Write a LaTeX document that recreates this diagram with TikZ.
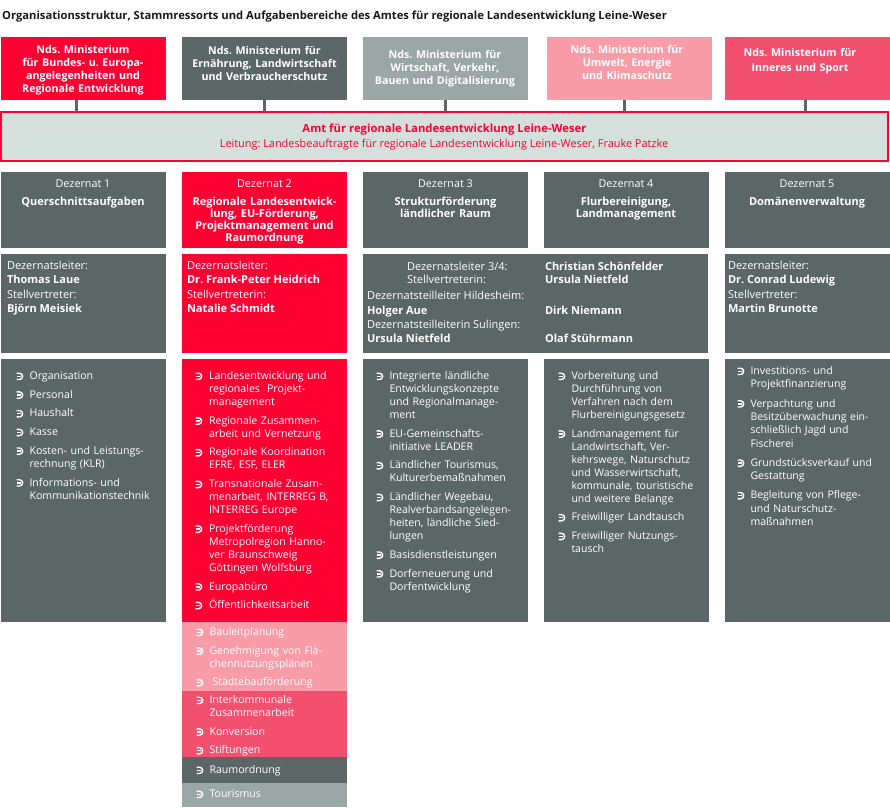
\documentclass[tikz,border=0pt]{standalone}
\usepackage{fontspec}
\setmainfont{Open Sans}
\frenchspacing
\definecolor{cred}{HTML}{FF0033}
\definecolor{dgrey}{HTML}{5B6766}
\definecolor{lgrey}{HTML}{9BA7A4}
\definecolor{lpink}{HTML}{F99CA8}
\definecolor{cpink}{HTML}{F3506F}
\definecolor{amtfill}{HTML}{D5DFDC}
\newcommand\bul{\tikz[x=1pt,y=1pt,baseline=0pt]{\draw[white,line width=1.4pt] (0,6.3)--(2.8,6.3) arc[start angle=90,end angle=-90,radius=3.15]--(0,0); \draw[white,line width=1.4pt](0,3.15)--(4.5,3.15);}}
\newcommand\bitem[2][13.5pt]{\hangindent=#1\hangafter=1\noindent\hbox to #1{\bul\hss}#2\par\vspace{5.7pt}}
\begin{document}
\frenchspacing
\begin{tikzpicture}[x=1pt,y=-1pt,
  box/.style={rectangle,draw=none,inner sep=0pt,outer sep=0pt,anchor=north west},
  wt/.style={text=white,inner sep=0pt,outer sep=0pt},
  mtitle/.style={wt,font=\bfseries\fontsize{10.7}{13}\selectfont,text width=170pt,align=center,anchor=base},
  dnum/.style={wt,font=\fontsize{10.8}{12}\selectfont,anchor=base},
  dtitle/.style={wt,font=\bfseries\fontsize{11}{12}\selectfont,text width=170pt,align=center,anchor=base},
  plab/.style={wt,font=\fontsize{11}{12}\selectfont,anchor=base west},
  pname/.style={wt,font=\bfseries\fontsize{11}{12}\selectfont,anchor=base west},
  tlist/.style={wt,font=\fontsize{10.6}{13}\selectfont,text width=200pt,align=left,anchor=base west},
  conn/.style={draw=dgrey,line width=3pt}
]
\useasboundingbox (0,0) rectangle (890,807);
% title
\node[anchor=base west,inner sep=0pt,text=black!90,font=\bfseries\fontsize{11.2}{13}\selectfont] (title) at (2,19) {Organisationsstruktur, Stammressorts und Aufgabenbereiche des Amtes für regionale Landesentwicklung Leine-Weser};
% ministries
\node[box,fill=cred,minimum width=165pt,minimum height=63pt] (m1) at (0.5,37) {};
\node[box,fill=dgrey,minimum width=165pt,minimum height=63pt] (m2) at (182,37) {};
\node[box,fill=lgrey,minimum width=165pt,minimum height=63pt] (m3) at (363,37) {};
\node[box,fill=lpink,minimum width=165pt,minimum height=63pt] (m4) at (547,37) {};
\node[box,fill=cpink,minimum width=164.5pt,minimum height=63pt] (m5) at (725,37) {};
\node[mtitle] (m1t) at (83,53.5) {Nds. Ministerium\\für Bundes- u. Europa-\\angelegenheiten und\\Regionale Entwicklung};
\node[mtitle] (m2t) at (264.5,54.5) {Nds. Ministerium für\\Ernährung, Landwirtschaft\\und Verbraucherschutz};
\node[mtitle] (m3t) at (445,58.5) {Nds. Ministerium für\\Wirtschaft, Verkehr,\\Bauen und Digitalisierung};
\node[mtitle] (m4t) at (627,53.5) {Nds. Ministerium für\\Umwelt, Energie\\und Klimaschutz};
\node[mtitle,font=\bfseries\fontsize{10.7}{14.5}\selectfont] (m5t) at (800,56.5) {Nds. Ministerium für\\Inneres und Sport};
% Amt
\node[box,draw=cred,line width=2pt,fill=amtfill,minimum width=887pt,minimum height=49pt] (amt) at (1,112) {};
\node[anchor=base,inner sep=0pt,text=cred,font=\bfseries\fontsize{11.3}{13}\selectfont] (amtt) at (444.5,132.5) {Amt für regionale Landesentwicklung Leine-Weser};
\node[anchor=base,inner sep=0pt,text=cred,font=\fontsize{10.9}{13}\selectfont] (amtl) at (444,147.5) {Leitung: Landesbeauftragte für regionale Landesentwicklung Leine-Weser, Frauke Patzke};
% connectors
\draw[conn] ([xshift=-7pt]m1.south) -- ([xshift=-7pt]m1.south |- amt.north);
\draw[conn] (m2.south) -- (m2.south |- amt.north);
\draw[conn] (m3.south) -- (m3.south |- amt.north);
\draw[conn] ([xshift=-5pt]m4.south) -- ([xshift=-5pt]m4.south |- amt.north);
\draw[conn] ([xshift=-2pt]m5.south) -- ([xshift=-2pt]m5.south |- amt.north);
% Dezernate
\node[box,fill=dgrey,minimum width=165pt,minimum height=76pt] (d1) at (0.5,172) {};
\node[box,fill=cred,minimum width=165pt,minimum height=76pt] (d2) at (182,172) {};
\node[box,fill=dgrey,minimum width=165pt,minimum height=76pt] (d3) at (363,172) {};
\node[box,fill=dgrey,minimum width=165pt,minimum height=76pt] (d4) at (543.5,172) {};
\node[box,fill=dgrey,minimum width=164.5pt,minimum height=76pt] (d5) at (725,172) {};
\node[dnum] (d1n) at (83,187.5) {Dezernat 1};
\node[dnum] (d2n) at (264.5,187.5) {Dezernat 2};
\node[dnum] (d3n) at (445.5,187.5) {Dezernat 3};
\node[dnum] (d4n) at (626,187.5) {Dezernat 4};
\node[dnum] (d5n) at (807,187.5) {Dezernat 5};
\node[dtitle] (d1t) at (83,205.5) {Querschnittsaufgaben};
\node[dtitle] (d2t) at (264.5,205.5) {Regionale Landesentwick-\\lung, EU-Förderung,\\Projektmanagement und\\Raumordnung};
\node[dtitle] (d3t) at (445.5,205.5) {Strukturförderung\\ländlicher Raum};
\node[dtitle] (d4t) at (626,205.5) {Flurbereinigung,\\Landmanagement};
\node[dtitle] (d5t) at (807,205.5) {Domänenverwaltung};
% persons
\node[box,fill=dgrey,minimum width=165pt,minimum height=99pt] (p1) at (0.5,254) {};
\node[box,fill=cred,minimum width=165pt,minimum height=99pt] (p2) at (182,254) {};
\node[box,fill=dgrey,minimum width=345pt,minimum height=99pt] (p34) at (363,254) {};
\node[box,fill=dgrey,minimum width=164.5pt,minimum height=99pt] (p5) at (725,254) {};
\node[plab] (p1a) at (7,269) {Dezernatsleiter:};
\node[pname] (p1b) at (7,283.5) {Thomas Laue};
\node[plab] (p1c) at (7,298.5) {Stellvertreter:};
\node[pname] (p1d) at (7,312.5) {Björn Meisiek};
\node[plab] (p2a) at (187,269) {Dezernatsleiter:};
\node[pname] (p2b) at (187,283.5) {Dr. Frank-Peter Heidrich};
\node[plab] (p2c) at (187,298.5) {Stellvertreterin:};
\node[pname] (p2d) at (187,312.5) {Natalie Schmidt};
\node[plab] (p3a) at (407,270) {Dezernatsleiter 3/4:};
\node[plab] (p3b) at (407,283.5) {Stellvertreterin:};
\node[plab] (p3c) at (367,299.5) {Dezernatsteilleiter Hildesheim:};
\node[pname] (p3d) at (367,314.5) {Holger Aue};
\node[plab] (p3e) at (367,328.5) {Dezernatsteilleiterin Sulingen:};
\node[pname] (p3f) at (367,342.5) {Ursula Nietfeld};
\node[pname] (p4a) at (545,270) {Christian Schönfelder};
\node[pname] (p4b) at (545,283.5) {Ursula Nietfeld};
\node[pname] (p4c) at (545,314.5) {Dirk Niemann};
\node[pname] (p4d) at (545,342.5) {Olaf Stührmann};
\node[plab] (p5a) at (728,269) {Dezernatsleiter:};
\node[pname] (p5b) at (728,283.5) {Dr. Conrad Ludewig};
\node[plab] (p5c) at (728,298.5) {Stellvertreter:};
\node[pname] (p5d) at (728,312.5) {Martin Brunotte};
% tasks
\node[box,fill=dgrey,minimum width=165pt,minimum height=263pt] (t1) at (0.5,359) {};
\node[box,fill=cred,minimum width=165pt,minimum height=263pt] (t2) at (182,359) {};
\node[box,fill=dgrey,minimum width=165pt,minimum height=263pt] (t3) at (363,359) {};
\node[box,fill=dgrey,minimum width=165pt,minimum height=263pt] (t4) at (543.5,359) {};
\node[box,fill=dgrey,minimum width=164.5pt,minimum height=263pt] (t5) at (725,359) {};
\node[box,fill=lpink,minimum width=165pt,minimum height=69pt] (b1) at (182,622) {};
\node[box,fill=cpink,minimum width=165pt,minimum height=66pt] (b2) at (182,691) {};
\node[box,fill=dgrey,minimum width=165pt,minimum height=25.5pt] (b3) at (182,757) {};
\node[box,fill=lgrey,minimum width=165pt,minimum height=24pt] (b4) at (182,783) {};
\node[tlist] (t1l) at (16,379.5) {%
\bitem{Organisation}
\bitem{Personal}
\bitem{Haushalt}
\bitem{Kasse}
\bitem{Kosten- und Leistungs-\newline rechnung (KLR)}
\bitem{Informations- und\newline Kommunikationstechnik}};
\node[tlist] (t2l) at (195,379.5) {%
\bitem[14pt]{Landesentwicklung und\newline regionales\ \ Projekt-\newline management}
\bitem[14pt]{Regionale Zusammen-\newline arbeit und Vernetzung}
\bitem[14pt]{Regionale Koordination\newline EFRE, ESF, ELER}
\bitem[14pt]{Transnationale Zusam-\newline menarbeit, INTERREG B,\newline INTERREG Europe}
\bitem[14pt]{Projektförderung\newline Metropolregion Hanno-\newline ver Braunschweig\newline Göttingen Wolfsburg}
\bitem[14pt]{Europabüro}
\bitem[14pt]{Öffentlichkeitsarbeit}};
\node[tlist] (t3l) at (376,379.5) {%
\bitem{Integrierte ländliche\newline Entwicklungskonzepte\newline und Regionalmanage-\newline ment}
\bitem{EU-Gemeinschafts-\newline initiative LEADER}
\bitem{Ländlicher Tourismus,\newline Kulturerbemaßnahmen}
\bitem{Ländlicher Wegebau,\newline Realverbandsangelegen-\newline heiten, ländliche Sied-\newline lungen}
\bitem{Basisdienstleistungen}
\bitem{Dorferneuerung und\newline Dorfentwicklung}};
\node[tlist,font=\fontsize{10.5}{13}\selectfont] (t4l) at (558,379.5) {%
\bitem{Vorbereitung und\newline Durchführung von\newline Verfahren nach dem\newline Flurbereinigungsgesetz}
\bitem{Landmanagement für\newline Landwirtschaft, Ver-\newline kehrswege, Naturschutz\newline und Wasserwirtschaft,\newline kommunale, touristische\newline und weitere Belange}
\bitem{Freiwilliger Landtausch}
\bitem{Freiwilliger Nutzungs-\newline tausch}};
\node[tlist,font=\fontsize{10.5}{13.4}\selectfont] (t5l) at (737,374.5) {%
\bitem{Investitions- und\newline Projektfinanzierung}
\bitem{Verpachtung und\newline Besitzüberwachung ein-\newline schließlich Jagd und\newline Fischerei}
\bitem{Grundstücksverkauf und\newline Gestattung}
\bitem{Begleitung von Pflege-\newline und Naturschutz-\newline maßnahmen}};
\node[tlist] (b1l) at (196,635.5) {%
\bitem{Bauleitplanung}
\bitem{Genehmigung von Flä-\newline chennutzungsplänen}
\bitem{\hspace{3pt}Städtebauförderung}};
\node[tlist] (b2l) at (196,703.5) {%
\bitem{Interkommunale\newline Zusammenarbeit}
\bitem{Konversion}
\bitem{Stiftungen}};
\node[tlist] (b3l) at (196,773.5) {\bitem{Raumordnung}};
\node[tlist] (b4l) at (196,797.5) {\bitem{Tourismus}};
\end{tikzpicture}
\end{document}
